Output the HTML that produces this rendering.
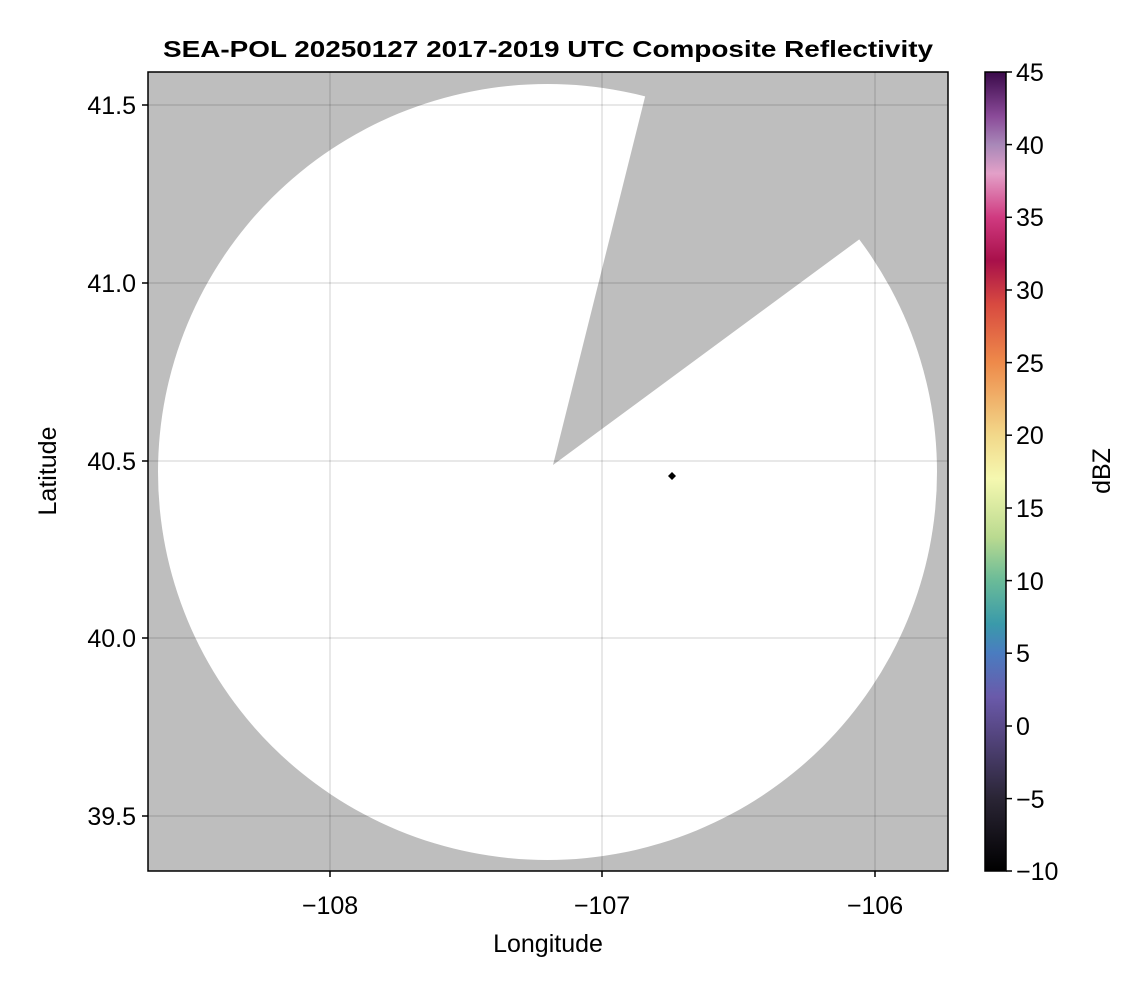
<!DOCTYPE html>
<html><head><meta charset="utf-8"><style>
html,body{margin:0;padding:0;background:#fff;}
svg{display:block;font-family:"Liberation Sans",sans-serif;}
</style></head><body>
<svg width="1146" height="990" viewBox="0 0 1146 990">
<defs>
<clipPath id="pa"><rect x="148" y="72" width="800" height="799"/></clipPath>
<linearGradient id="cb" x1="0" y1="1" x2="0" y2="0">
<stop offset="0" stop-color="#000000"/>
<stop offset="0.0909" stop-color="#2a2535"/>
<stop offset="0.1818" stop-color="#5a4a8a"/>
<stop offset="0.218" stop-color="#6a5aaa"/>
<stop offset="0.2727" stop-color="#4a7cc0"/>
<stop offset="0.309" stop-color="#3a9aaa"/>
<stop offset="0.3636" stop-color="#6abb98"/>
<stop offset="0.418" stop-color="#bada90"/>
<stop offset="0.491" stop-color="#f5f8b0"/>
<stop offset="0.5454" stop-color="#f2d88a"/>
<stop offset="0.6364" stop-color="#ee8a4a"/>
<stop offset="0.709" stop-color="#d84a40"/>
<stop offset="0.7636" stop-color="#a8104a"/>
<stop offset="0.818" stop-color="#d03a80"/>
<stop offset="0.873" stop-color="#e3a0c8"/>
<stop offset="0.909" stop-color="#a888b8"/>
<stop offset="0.945" stop-color="#8a4a98"/>
<stop offset="1" stop-color="#3a0a4a"/>
</linearGradient>
</defs>
<text x="548" y="57" text-anchor="middle" font-size="23" font-weight="bold" textLength="770" lengthAdjust="spacingAndGlyphs">SEA-POL 20250127 2017-2019 UTC Composite Reflectivity</text>
<g clip-path="url(#pa)">
<rect x="148" y="72" width="800" height="799" fill="#bebebe"/>
<ellipse cx="547.5" cy="472" rx="389.5" ry="388" fill="#fff"/>
<polygon points="553,465 663.4,23.4 1000,20 1000,140 948,174" fill="#bebebe"/>
<g stroke="#000" stroke-opacity="0.12" stroke-width="1.5">
<line x1="330" y1="72" x2="330" y2="871"/><line x1="602" y1="72" x2="602" y2="871"/><line x1="875" y1="72" x2="875" y2="871"/>
<line x1="148" y1="105" x2="948" y2="105"/><line x1="148" y1="283" x2="948" y2="283"/><line x1="148" y1="461" x2="948" y2="461"/><line x1="148" y1="638" x2="948" y2="638"/><line x1="148" y1="816" x2="948" y2="816"/>
</g>
<polygon points="672,472 676,476 672,480 668,476" fill="#000"/>
</g>
<rect x="148" y="72" width="800" height="799" fill="none" stroke="#000" stroke-width="1.5"/>
<g stroke="#000" stroke-width="1.5">
<line x1="330" y1="871" x2="330" y2="877"/><line x1="602" y1="871" x2="602" y2="877"/><line x1="875" y1="871" x2="875" y2="877"/>
<line x1="142" y1="105" x2="148" y2="105"/><line x1="142" y1="283" x2="148" y2="283"/><line x1="142" y1="461" x2="148" y2="461"/><line x1="142" y1="638" x2="148" y2="638"/><line x1="142" y1="816" x2="148" y2="816"/>
</g>
<g font-size="25" text-anchor="middle">
<text x="330" y="914">−108</text><text x="602" y="914">−107</text><text x="875" y="914">−106</text>
<text x="548" y="952">Longitude</text>
</g>
<g font-size="25" text-anchor="end">
<text x="136" y="114">41.5</text><text x="136" y="292">41.0</text><text x="136" y="470">40.5</text><text x="136" y="647">40.0</text><text x="136" y="825">39.5</text>
</g>
<text transform="translate(56,471) rotate(-90)" font-size="25" text-anchor="middle">Latitude</text>
<rect x="985" y="72" width="21" height="799" fill="url(#cb)" stroke="#000" stroke-width="1.5"/>
<g stroke="#000" stroke-width="1.5">
<line x1="1006" y1="72" x2="1012" y2="72"/><line x1="1006" y1="144.6" x2="1012" y2="144.6"/><line x1="1006" y1="217.3" x2="1012" y2="217.3"/><line x1="1006" y1="290" x2="1012" y2="290"/><line x1="1006" y1="362.6" x2="1012" y2="362.6"/><line x1="1006" y1="435.2" x2="1012" y2="435.2"/><line x1="1006" y1="508" x2="1012" y2="508"/><line x1="1006" y1="580.6" x2="1012" y2="580.6"/><line x1="1006" y1="653.2" x2="1012" y2="653.2"/><line x1="1006" y1="726" x2="1012" y2="726"/><line x1="1006" y1="798.6" x2="1012" y2="798.6"/><line x1="1006" y1="871" x2="1012" y2="871"/>
</g>
<g font-size="25">
<text x="1016" y="81">45</text><text x="1016" y="154">40</text><text x="1016" y="226">35</text><text x="1016" y="299">30</text><text x="1016" y="372">25</text><text x="1016" y="444">20</text><text x="1016" y="517">15</text><text x="1016" y="590">10</text><text x="1016" y="662">5</text><text x="1016" y="735">0</text><text x="1016" y="808">−5</text><text x="1016" y="880">−10</text>
</g>
<text transform="translate(1110,471) rotate(-90)" font-size="25" text-anchor="middle">dBZ</text>
</svg>
</body></html>
